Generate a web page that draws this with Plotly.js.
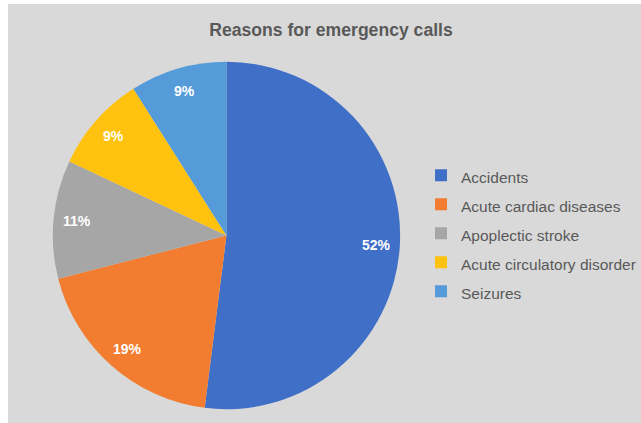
<!DOCTYPE html>
<html><head><meta charset="utf-8">
<script src="https://cdn.plot.ly/plotly-3.0.1.min.js"></script>
<style>html,body{margin:0;padding:0;background:#fff;}#chart{position:absolute;left:8px;top:4px;width:633px;height:419px;}</style>
</head><body><div id="chart"></div>
<script>
const categories = ["Accidents","Acute cardiac diseases","Apoplectic stroke","Acute circulatory disorder","Seizures"];
const values = [52,19,11,9,9];
const colors = ["#406fc8","#f27c2f","#a6a6a6","#ffc20e","#559bd9"];

const W = 633, H = 419;
const dom = {x: [45/W, 394/W], y: [13/H, 362/H]};

const trace = {
  type: "pie",
  labels: categories.map(c => '<span style="font-size:15.5px">' + c + '</span>'),
  values: values,
  sort: false,
  direction: "clockwise",
  rotation: 0,
  marker: {colors: colors, line: {color: "#d9d9d9", width: 0}},
  textinfo: "none",
  textposition: "none",
  domain: dom,
  hoverinfo: "none"
};

// data labels placed along each slice's bisector (Excel "best fit" style)
const total = values.reduce((a, b) => a + b, 0);
const cx = (dom.x[0] + dom.x[1]) / 2, cy = (dom.y[0] + dom.y[1]) / 2;
const R = (dom.x[1] - dom.x[0]) * W / 2;
const rl = 0.865 * R;
let cum = 0;
const annotations = values.map(v => {
  const th = (cum + v / 2) / total * 2 * Math.PI;
  cum += v;
  return {
    x: cx + rl * Math.sin(th) / W, y: cy + rl * Math.cos(th) / H,
    xref: "paper", yref: "paper", xanchor: "center", yanchor: "middle", showarrow: false,
    text: "<b>" + Math.round(v / total * 100) + "%</b>",
    font: {family: "Liberation Sans, Arial, sans-serif", size: 14, color: "#ffffff"}
  };
});

const layout = {
  width: W, height: H,
  paper_bgcolor: "#d9d9d9",
  margin: {l: 0, r: 0, t: 0, b: 0},
  title: {text: "<b>Reasons for emergency calls</b>", x: 323/W, xanchor: "center", xref: "container",
          y: 1 - 26/H, yanchor: "middle", yref: "container",
          font: {family: "Liberation Sans, Arial, sans-serif", size: 17.6, color: "#595959"}},
  showlegend: true,
  legend: {x: 415/W, xanchor: "left", y: 0.453, yanchor: "middle", bgcolor: "rgba(0,0,0,0)",
           font: {family: "Liberation Sans, Arial, sans-serif", size: 20, color: "#595959"}},
  annotations: annotations
};

Plotly.newPlot("chart", [trace], layout, {displayModeBar: false, staticPlot: true});
</script></body></html>
